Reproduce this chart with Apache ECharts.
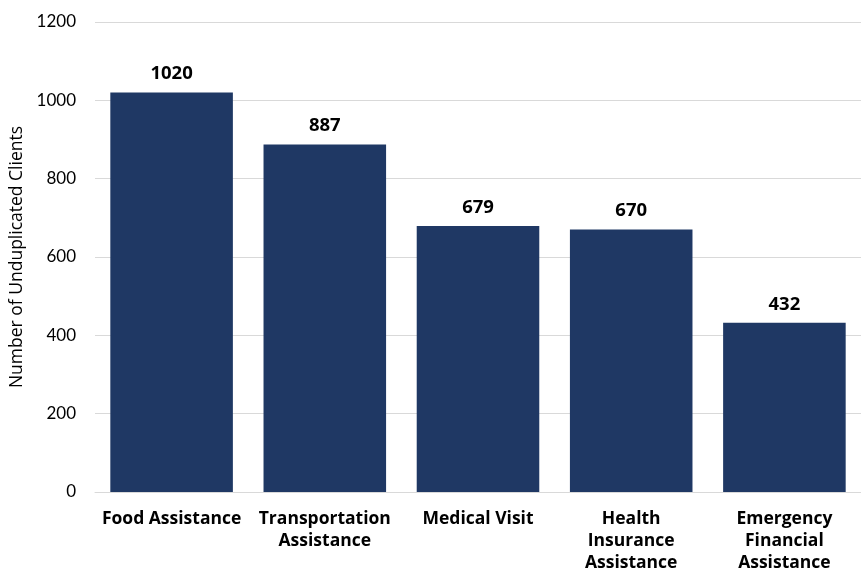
<!DOCTYPE html>
<html><head><meta charset="utf-8">
<script src="https://cdn.jsdelivr.net/npm/echarts@6/dist/echarts.min.js"></script>
<style>html,body{margin:0;padding:0;background:#fff}#c{width:861px;height:568px}</style>
</head><body><div id="c"></div>
<script>
const categories = ["Food Assistance", "Transportation\nAssistance", "Medical Visit", "Health\nInsurance\nAssistance", "Emergency\nFinancial\nAssistance"];
const values = [1020, 887, 679, 670, 432];
const yTicks = [0, 200, 400, 600, 800, 1000, 1200];
const font = "'Open Sans', sans-serif";
const chart = echarts.init(document.getElementById('c'));
chart.setOption({
  animation: false,
  grid: { left: 95, right: 0, top: 22, bottom: 76, outerBoundsMode: 'none', containLabel: false },
  xAxis: {
    type: 'category', data: categories,
    axisTick: { show: false },
    axisLine: { lineStyle: { color: '#d9d9d9', width: 1 } },
    axisLabel: { color: '#000', fontFamily: font, fontWeight: 'bold', fontSize: 17.5, lineHeight: 22, margin: 16, interval: 0 }
  },
  yAxis: {
    type: 'value', min: yTicks[0], max: yTicks[yTicks.length-1], interval: 200,
    name: 'Number of Unduplicated Clients', nameLocation: 'middle', nameGap: 68,
    nameTextStyle: { color: '#000', fontFamily: font, fontSize: 17.5 },
    axisLabel: { color: '#000', fontFamily: "Lato, sans-serif", fontSize: 17, margin: 19, formatter: v => String(v) },
    splitLine: { lineStyle: { color: '#d9d9d9', width: 1 } },
    axisLine: { show: false }, axisTick: { show: false }
  },
  series: [{
    type: 'bar', data: values, barCategoryGap: '20%',
    itemStyle: { color: '#1F3864' },
    label: { show: true, position: 'top', distance: 9, color: '#000', fontFamily: font, fontWeight: 'bold', fontSize: 18.5 }
  }]
});
</script></body></html>
